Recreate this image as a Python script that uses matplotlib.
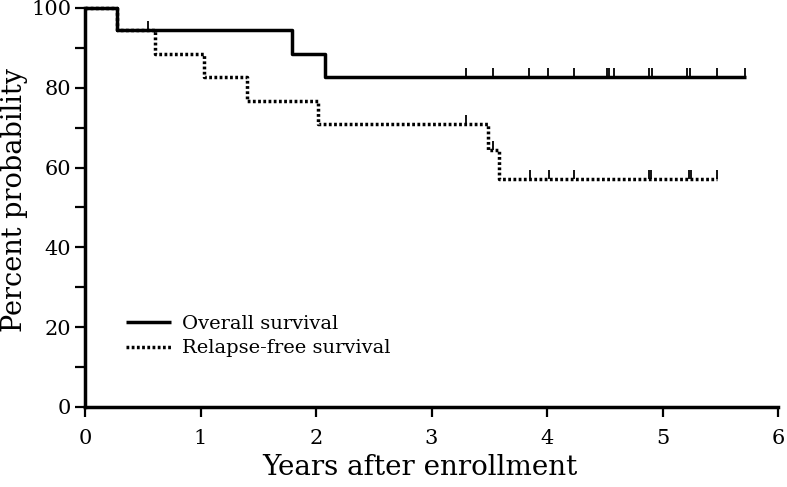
import matplotlib
matplotlib.use("Agg")
import matplotlib.pyplot as plt
import numpy as np

# Overall survival (Kaplan-Meier step data)
os_times = [0.0, 0.28, 1.79, 2.08, 5.72]
os_values = [100.0, 94.4, 88.5, 82.6, 82.6]
os_censor = [0.545, 3.30, 3.53, 3.84, 4.01, 4.23, 4.52, 4.54, 4.58, 4.88, 4.91,
             5.21, 5.24, 5.47, 5.71]

# Relapse-free survival
rfs_times = [0.0, 0.28, 0.61, 1.03, 1.40, 2.02, 3.49, 3.58, 5.47]
rfs_values = [100.0, 94.4, 88.5, 82.6, 76.7, 70.8, 64.4, 57.2, 57.2]
rfs_censor = [3.30, 3.53, 3.85, 4.02, 4.23, 4.88, 4.90, 5.23, 5.25, 5.47]

xticks = [0, 1, 2, 3, 4, 5, 6]
yticks = [0, 20, 40, 60, 80, 100]
yminor = [10, 30, 50, 70, 90]

plt.rcParams['font.family'] = ['DejaVu Serif']

fig = plt.figure(figsize=(7.87, 4.87), dpi=100)
ax = fig.add_axes([0.108, 0.1643, 0.8806, 0.8193])

def step_at(times, values, t):
    idx = np.searchsorted(times, t, side='right') - 1
    return values[idx]

lw = 2.5
ax.step(os_times, os_values, where='post', color='black', lw=lw,
        label='Overall survival', solid_capstyle='butt', zorder=3, clip_on=False)
ax.step(rfs_times, rfs_values, where='post', color='black', lw=lw,
        linestyle=(0, (0.8, 0.7)), label='Relapse-free survival', zorder=2,
        clip_on=False)

tick_marker = [(0, 0), (0, 1)]
ax.plot(os_censor, [step_at(os_times, os_values, t) for t in os_censor],
        linestyle='none', marker=tick_marker, markersize=13, mew=1.3,
        color='black', zorder=3)
ax.plot(rfs_censor, [step_at(rfs_times, rfs_values, t) for t in rfs_censor],
        linestyle='none', marker=tick_marker, markersize=13, mew=1.3,
        color='black', zorder=3)

ax.set_xlim(0, 6)
ax.set_ylim(0, 100)
ax.set_xticks(xticks)
ax.set_yticks(yticks)
ax.set_yticks(yminor, minor=True)
ax.spines['top'].set_visible(False)
ax.spines['right'].set_visible(False)
for s in ['left', 'bottom']:
    ax.spines[s].set_linewidth(2.5)
ax.tick_params(axis='both', which='major', direction='out', length=7,
               width=1.6, labelsize=15, pad=3)
ax.tick_params(axis='y', which='minor', direction='out', length=7, width=1.6)
ax.tick_params(axis='x', pad=9)

ax.set_xlabel('Years after enrollment', fontsize=20)
ax.xaxis.set_label_coords(0.483, -0.118)
ax.set_ylabel('Percent probability', fontsize=19.5)
ax.yaxis.set_label_coords(-0.082, 0.52)

leg = ax.legend(loc='lower left', bbox_to_anchor=(0.048, 0.105), frameon=False,
                fontsize=14, handlelength=2.3, handletextpad=0.57,
                labelspacing=0.33, borderaxespad=0)

fig.savefig('out.png', dpi=100)
